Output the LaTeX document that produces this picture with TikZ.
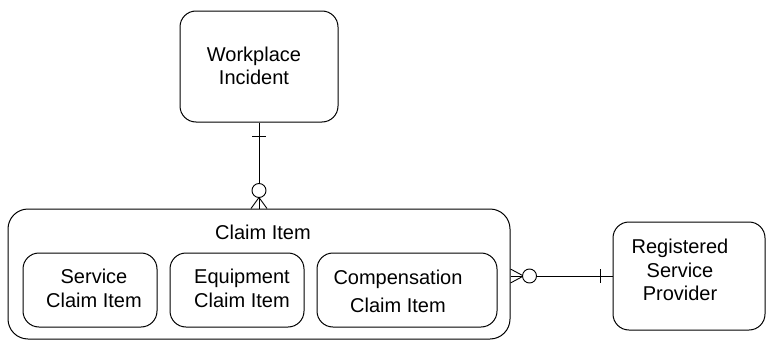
\documentclass[tikz,border=0pt]{standalone}
\usepackage{fontspec}
\setmainfont{Liberation Sans}
\usetikzlibrary{calc}
\begin{document}
\begin{tikzpicture}[x=1pt,y=-1pt,
  entity/.style={draw,line width=1pt,rounded corners=16pt,inner sep=0pt},
  label/.style={align=center,inner sep=0pt,font=\fontsize{20}{23.5}\selectfont},
  conn/.style={line width=0.9pt},
  ring/.style={draw,fill=white,line width=0.9pt,circle,minimum size=14pt,inner sep=0pt}]
\useasboundingbox (0,0) rectangle (774,340);

% entity boxes
\node[entity,minimum width=158pt,minimum height=111pt] (wi) at (259,66.5) {};
\node[entity,rounded corners=20pt,minimum width=502pt,minimum height=130pt] (ci) at (259,274) {};
\node[entity,minimum width=134pt,minimum height=74pt] (sci) at (90,290) {};
\node[entity,minimum width=134pt,minimum height=74pt] (eci) at (237,290) {};
\node[entity,minimum width=180pt,minimum height=74pt] (cci) at (407,290) {};
\node[entity,minimum width=152pt,minimum height=108pt] (rsp) at (689,276) {};

% entity names
\node[label] (wit) at (254,66) {Workplace\\Incident};
\node[label] (cit) at (263,232) {Claim Item};
\node[label] (scit) at (94,288.5) {Service\\Claim Item};
\node[label] (ecit) at (242,288.5) {Equipment\\Claim Item};
\node[label,font=\fontsize{20}{28}\selectfont] (ccit) at (398,291) {Compensation\\Claim Item};
\node[label] (rspt) at (680,270) {Registered\\Service\\Provider};

% Workplace Incident (one) -- Claim Item (zero or many)
\draw[conn] (wi.south) -- (ci.north);
\draw[conn] ($(wi.south)+(-7,14)$) -- ($(wi.south)+(7,14)$);
\coordinate (ft) at ($(ci.north)+(0,-11)$);
\draw[conn] (ft) -- ($(ci.north)+(-8,0)$);
\draw[conn] (ft) -- ($(ci.north)+(8,0)$);
\node[ring] (r1) at ($(ci.north)+(0,-18)$) {};

% Claim Item (zero or many) -- Registered Service Provider (one)
\coordinate (ce) at (ci.east |- rsp.west);
\draw[conn] (ce) -- (rsp.west);
\draw[conn] ($(rsp.west)+(-12,-7)$) -- ($(rsp.west)+(-12,7)$);
\coordinate (fr) at ($(ce)+(13,0)$);
\draw[conn] (fr) -- ($(ce)+(0,-7)$);
\draw[conn] (fr) -- ($(ce)+(0,7)$);
\node[ring] (r2) at ($(ce)+(19,0)$) {};
\end{tikzpicture}
\end{document}
